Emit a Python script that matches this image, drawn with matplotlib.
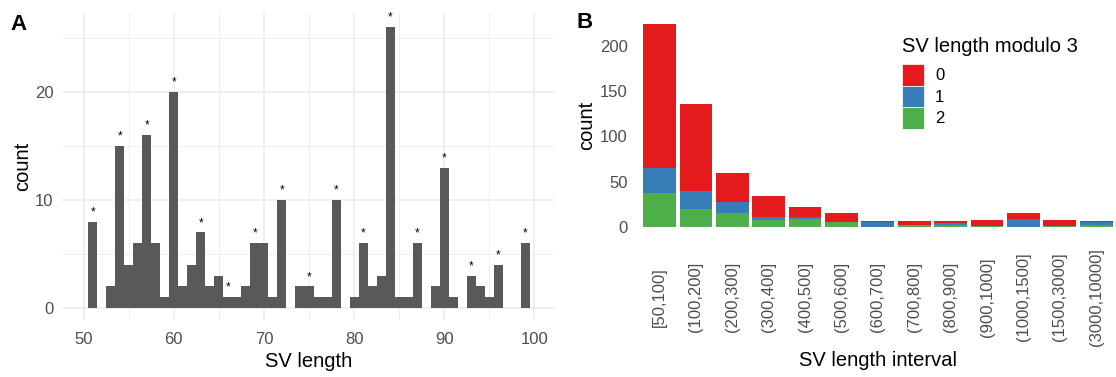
import numpy as np
import matplotlib
matplotlib.use("Agg")
import matplotlib.pyplot as plt
from matplotlib.patches import Patch

plt.rcParams['font.family'] = ['Liberation Sans', 'DejaVu Sans']

# Panel A: SV length histogram (50-100 bp)
sv_lengths = list(range(51, 100))
sv_counts = [8, 0, 2, 15, 4, 6, 16, 6, 1, 20,
             2, 4, 7, 2, 3, 1, 1, 2, 6, 6,
             1, 10, 0, 2, 2, 1, 1, 10, 0, 1,
             6, 2, 3, 26, 1, 1, 6, 0, 2, 13,
             1, 0, 3, 2, 1, 4, 0, 0, 6]

# Panel B: SV length interval counts split by length modulo 3
intervals = ["[50,100]", "(100,200]", "(200,300]", "(300,400]", "(400,500]",
             "(500,600]", "(600,700]", "(700,800]", "(800,900]", "(900,1000]",
             "(1000,1500]", "(1500,3000]", "(3000,10000]"]
mod0 = [159, 96, 32, 23, 11, 9, 2, 5, 3, 7, 7, 7, 2]
mod1 = [28, 20, 12, 3, 2, 1, 5, 0, 2, 0, 9, 0, 3]
mod2 = [37, 20, 16, 8, 9, 5, 0, 2, 2, 1, 0, 1, 2]
mod_labels = ["0", "1", "2"]
mod_colors = ["#E41A1C", "#377EB8", "#4DAF4A"]

W, H = 1116, 377
fig = plt.figure(figsize=(W / 100, H / 100), dpi=100)


def px_axes(left, top, right, bottom):
    return fig.add_axes([left / W, 1 - bottom / H, (right - left) / W, (bottom - top) / H])


tick_col = "#4D4D4D"
grid_col = "#EBEBEB"

# ---- Panel A ----
axA = px_axes(63, 13, 555, 320)
axA.bar(sv_lengths, sv_counts, width=1.0, color="#595959", zorder=2)
stars = [(x, c) for x, c in zip(sv_lengths, sv_counts) if x % 3 == 0 and c > 0]
for x, c in stars:
    axA.text(x, c + 0.6, "*", ha="center", va="baseline", fontsize=8.5, color="black", zorder=3)
axA.set_xlim(47.7, 102.3)
axA.set_ylim(-1.1, 27.3)
axA.set_xticks([50, 60, 70, 80, 90, 100])
axA.set_xticks([55, 65, 75, 85, 95], minor=True)
axA.set_yticks([0, 10, 20])
axA.set_yticks([5, 15, 25], minor=True)
axA.grid(True, which="major", color=grid_col, lw=1.1, zorder=0)
axA.grid(True, which="minor", color=grid_col, lw=0.6, zorder=0)
axA.tick_params(which="both", length=0, labelsize=12, labelcolor=tick_col)
axA.tick_params(axis="x", pad=9)
axA.tick_params(axis="y", pad=7)
for s in axA.spines.values():
    s.set_visible(False)
axA.set_xlabel("SV length", fontsize=14.5, labelpad=3)
axA.set_ylabel("count", fontsize=14.5, labelpad=2)
fig.text(10 / W, 1 - 24 / H, "A", fontsize=16, fontweight="bold", va="center", ha="left")

# ---- Panel B ----
axB = px_axes(637.7, 13.6, 1118, 237.2)
xpos = np.arange(len(intervals))
bottom = np.zeros(len(intervals))
for vals, col in [(mod2, mod_colors[2]), (mod1, mod_colors[1]), (mod0, mod_colors[0])]:
    axB.bar(xpos, vals, width=0.9, bottom=bottom, color=col, zorder=2)
    bottom = bottom + np.array(vals)
axB.set_xlim(-0.6, len(intervals) - 0.4)
axB.set_ylim(-11.2, 235.2)
axB.set_yticks([0, 50, 100, 150, 200])
axB.set_xticks(xpos)
axB.set_xticklabels(intervals, rotation=90, va="center", ha="center")
axB.tick_params(which="both", length=0, labelsize=12, labelcolor=tick_col)
axB.tick_params(axis="x", pad=43)
axB.tick_params(axis="y", pad=7)
for s in axB.spines.values():
    s.set_visible(False)
axB.set_xlabel("SV length interval", fontsize=14.5, labelpad=4)
axB.set_ylabel("count", fontsize=14.5, labelpad=3)
fig.text(576 / W, 1 - 23 / H, "B", fontsize=16, fontweight="bold", va="center", ha="left")

handles = [Patch(facecolor=c, edgecolor="white", lw=0.5) for c in mod_colors]
leg = fig.legend(handles, mod_labels, title="SV length modulo 3",
                 loc="upper left", bbox_to_anchor=(902 / W, 1 - 37 / H),
                 frameon=False, fontsize=12, title_fontsize=14.5,
                 handlelength=1.32, handleheight=1.6, labelspacing=0.0,
                 handletextpad=0.66, borderpad=0, borderaxespad=0,
                 alignment="left")
leg._legend_box.sep = 6

fig.savefig("out.png", dpi=100)
